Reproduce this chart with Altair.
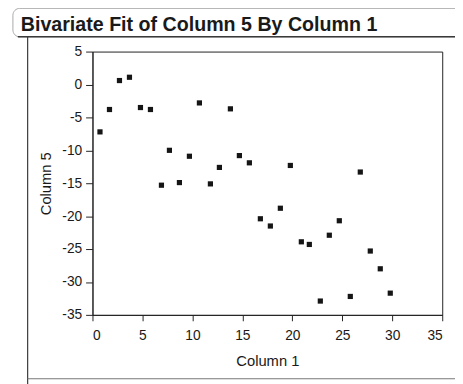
import altair as alt
import pandas as pd

# Data
col1 = [0.75, 1.7, 2.7, 3.7, 4.8, 5.8, 6.9, 7.7, 8.7, 9.7,
        10.7, 11.8, 12.7, 13.8, 14.7, 15.7, 16.8, 17.8, 18.8, 19.8,
        20.9, 21.7, 22.8, 23.7, 24.7, 25.8, 26.8, 27.8, 28.8, 29.8]
col5 = [-7.2, -3.8, 0.6, 1.1, -3.5, -3.8, -15.3, -10.0, -14.9, -10.9,
        -2.8, -15.1, -12.6, -3.7, -10.8, -11.9, -20.4, -21.5, -18.8, -12.3,
        -23.9, -24.3, -32.9, -22.9, -20.7, -32.2, -13.3, -25.3, -28.0, -31.7]
x_ticks = [0, 5, 10, 15, 20, 25, 30, 35]
y_ticks = [-35, -30, -25, -20, -15, -10, -5, 0, 5]
header = "Bivariate Fit of Column 5 By Column 1"

df = pd.DataFrame({"Column 1": col1, "Column 5": col5})
one = pd.DataFrame({"t": [header]})

FONT = "Liberation Sans"
LBL = "datum.value < 0 ? '-' + abs(datum.value) : '' + datum.value"

points = alt.Chart(df).mark_point(
    shape="square", filled=True, size=28, color="#151515", opacity=1
).encode(
    x=alt.X("Column 1:Q",
            scale=alt.Scale(domain=[0, 35], nice=False, zero=False),
            axis=alt.Axis(values=x_ticks, title="Column 1", grid=False,
                          labelExpr=LBL,
                          tickSize=6, labelPadding=8, titlePadding=12,
                          labelFontSize=14, titleFontSize=15,
                          labelFont=FONT, titleFont=FONT,
                          labelColor="#1a1a1a", titleColor="#1a1a1a",
                          titleFontWeight="normal",
                          domainColor="#222", tickColor="#222")),
    y=alt.Y("Column 5:Q",
            scale=alt.Scale(domain=[-35, 5], nice=False, zero=False),
            axis=alt.Axis(values=y_ticks, title="Column 5", grid=False,
                          labelExpr=LBL,
                          tickSize=7, labelPadding=4, titlePadding=8,
                          labelFontSize=14, titleFontSize=15,
                          labelFont=FONT, titleFont=FONT,
                          labelColor="#1a1a1a", titleColor="#1a1a1a",
                          titleFontWeight="normal",
                          domainColor="#222", tickColor="#222")),
)

base = alt.Chart(one)

header_box = base.mark_rect(
    fill=None, stroke="#a8a8a8", strokeWidth=1, cornerRadius=7, clip=False
).encode(x=alt.value(-81), x2=alt.value(380), y=alt.value(-44), y2=alt.value(-15))

header_bottom = base.mark_rule(stroke="#3a3a3a", strokeWidth=1.5).encode(
    x=alt.value(-76), x2=alt.value(380), y=alt.value(-15))

inner_left = base.mark_rule(stroke="#3a3a3a", strokeWidth=1.2).encode(
    x=alt.value(-66), y=alt.value(-15), y2=alt.value(340))

inner_bottom = base.mark_rule(stroke="#777", strokeWidth=1.2).encode(
    x=alt.value(-66), x2=alt.value(380), y=alt.value(333))

title_text = base.mark_text(
    align="left", baseline="alphabetic", font=FONT, fontSize=20,
    fontWeight="bold", color="#1a1a1a"
).encode(x=alt.value(-73), y=alt.value(-21), text="t:N")

chart = alt.layer(
    header_box, header_bottom, inner_left, inner_bottom, title_text, points
).properties(
    width=356, height=268,
    autosize=alt.AutoSizeParams(type="none"),
    padding={"left": 86, "top": 41, "right": 13, "bottom": 67},
    background="white",
).configure_view(stroke="#222", strokeWidth=1)

chart.save("out.html", embed_options={"renderer": "svg", "actions": False})
